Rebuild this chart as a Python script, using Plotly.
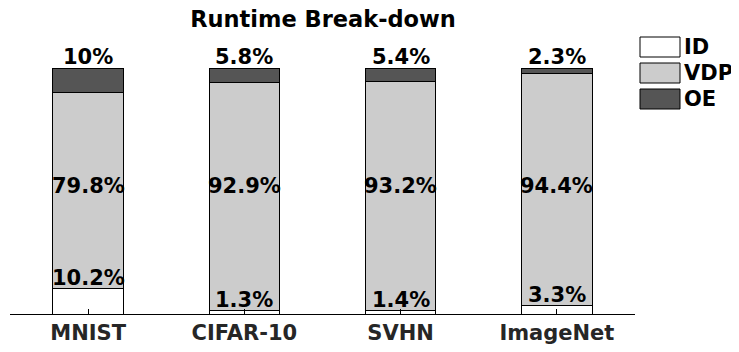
import plotly.graph_objects as go

datasets = ["MNIST", "CIFAR-10", "SVHN", "ImageNet"]
id_pct = [10.2, 1.3, 1.4, 3.3]
vdp_pct = [79.8, 92.9, 93.2, 94.4]
oe_pct = [10.0, 5.8, 5.4, 2.3]
oe_labels = ["10%", "5.8%", "5.4%", "2.3%"]

series = [("ID", id_pct, "white"), ("VDP", vdp_pct, "#cccccc"), ("OE", oe_pct, "#555555")]
fnt = dict(family="DejaVu Sans", size=21, color="black")

# la pagina tiene 8px de margen en el body -> figura de 731x344
W, H = 731, 344
L, T, PW, PH = 2, 60, 625, 246

fig = go.Figure()
for name, vals, col in series:
    fig.add_trace(go.Bar(
        x=datasets, y=vals, name=name, width=0.45,
        marker=dict(color=col, line=dict(color="black", width=1)),
        showlegend=False
    ))

# etiquetas
for i, d in enumerate(datasets):
    fig.add_annotation(x=d, y=id_pct[i], text="<b>%.1f%%</b>" % id_pct[i], showarrow=False,
                       yanchor="bottom", yshift=-3, font=fnt)
    fig.add_annotation(x=d, y=52, text="<b>%.1f%%</b>" % vdp_pct[i], showarrow=False, font=fnt)
    fig.add_annotation(x=d, y=100, text="<b>%s</b>" % oe_labels[i], showarrow=False,
                       yanchor="bottom", yshift=-3, font=fnt)

# leyenda a mano
for k, (name, vals, col) in enumerate(series):
    top = 29 + 26 * k
    y1 = 1 - (top - T) / float(PH)
    fig.add_shape(type="rect", xref="paper", yref="paper",
                  x0=(632 - L) / float(PW), x1=(672 - L) / float(PW),
                  y0=y1 - 20 / float(PH), y1=y1,
                  fillcolor=col, line=dict(color="black", width=1))
    fig.add_annotation(xref="paper", yref="paper", x=(674 - L) / float(PW), y=y1 - 10 / float(PH),
                       text="<b>%s</b>" % name, showarrow=False, xanchor="left",
                       yanchor="middle", font=fnt)

fig.update_layout(
    barmode="stack", width=W, height=H,
    margin=dict(l=L, r=W - L - PW, t=T, b=H - T - PH, autoexpand=False),
    paper_bgcolor="white", plot_bgcolor="white",
    title=dict(text="<b>Runtime Break-down</b>", x=315 / float(W), xanchor="center",
               y=1 - 11 / float(H), yanchor="middle",
               font=dict(family="DejaVu Sans", size=22.5, color="black")),
    xaxis=dict(showline=True, linecolor="black", linewidth=1, ticks="inside", ticklen=5,
               tickcolor="black", range=[-0.5, 3.5], automargin=False,
               tickfont=dict(family="DejaVu Sans", size=21, color="#262626"),
               tickprefix="<b>", ticksuffix="</b>"),
    yaxis=dict(range=[0, 100], visible=False, showgrid=False, automargin=False),
)

fig.write_html("out.html")
